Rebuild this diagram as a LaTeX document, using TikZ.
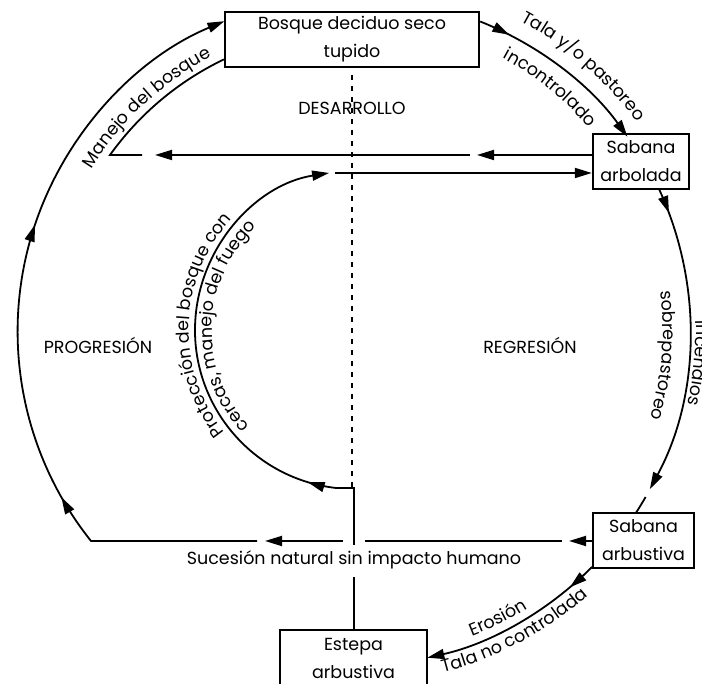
\documentclass[tikz,border=0pt]{standalone}
\usepackage{fontspec}
\setmainfont{Poppins}
\usetikzlibrary{arrows.meta,decorations.text,decorations.markings}
\newcommand\lblfont{\fontsize{17.5}{20}\selectfont}
\begin{document}
\begin{tikzpicture}[x=1pt,y=1pt,
  >={Triangle[length=17pt,width=10pt]},
  conn/.style={line width=1.8pt},
  box/.style={draw,line width=2.4pt,minimum height=55pt,inner sep=0pt,align=center,font=\fontsize{17.5}{28}\selectfont},
  lbl/.style={font=\lblfont},
  curved/.style={decorate,decoration={text along path,text={|\lblfont|#1},text align=center}},
  midarr/.style={postaction={decorate,decoration={markings,mark=at position #1 with {\arrow{>}}}}},
  dotline/.style={line width=2.6pt,dash pattern=on 5pt off 6pt}
]
\useasboundingbox (0,0) rectangle (702,684);
\coordinate (C) at (354,354);

% boxes
\node[box,minimum width=254pt] (bosque) at (352,644.5) {Bosque deciduo seco\\tupido};
\node[box,minimum width=96pt] (arbolada) at (641,522.5) {Sabana\\arbolada};
\node[box,minimum width=101pt] (arbustiva) at (643.5,143.5) {Sabana\\arbustiva};
\node[box,minimum width=147pt,minimum height=57pt] (estepa) at (353.5,25.5) {Estepa\\arbustiva};

% labels
\node[lbl] (desarrollo) at (352,576) {DESARROLLO};
\node[lbl] (progresion) at (98,339) {PROGRESIÓN};
\node[lbl] (regresion) at (530,339) {REGRESIÓN};
\node[lbl] (sucesion) at (354,124) {Sucesión natural sin impacto humano};

% dotted divider
\coordinate (dtop) at (352,609);
\coordinate (dbot) at (352,194);
\draw[dotline] (dtop) -- (dbot);

% top: bosque -> sabana arbolada
\coordinate (t0) at ([yshift=18pt]bosque.east);
\draw[conn,->,midarr=32pt] (t0) arc[start angle=68.2,end angle=35.7,radius=334];

% right: arbolada -> arbustiva
\coordinate (r0) at (659,495);
\coordinate (r1) at (645.6,187);
\draw[conn,->,midarr=26pt] (r0) arc[start angle=24.8,end angle=-28.3,radius=336];
\draw[conn] (r1) arc[start angle=-29.8,end angle=-33,radius=336];

% lower right: arbustiva -> estepa
\coordinate (e0) at (592,117);
\draw[conn,->,midarr=30pt] (e0) arc[start angle=-44.9,end angle=-77.4,radius=336];

% top horizontal (arbolada -> bosque)
\coordinate (h1a) at (arbolada.west |- 0,529);
\coordinate (h1b) at (477,529);
\coordinate (h1c) at (470,529);
\coordinate (h1d) at (155,529);
\coordinate (h1e) at (142,529);
\coordinate (h1f) at (110,529);
\draw[conn,->] (h1a) -- (h1b);
\draw[conn,->] (h1c) -- (h1d);
\draw[conn] (h1e) -- (h1f) arc[start angle=144.4,end angle=115.6,radius=299];

% second horizontal (inner arc -> arbolada)
\coordinate (h2a) at (335,511);
\draw[conn,->] (h2a) -- (arbolada.west |- h2a);

% vertical from estepa and inner arc
\coordinate (v0) at (estepa.north -| 354,0);
\coordinate (v1) at (354,107);
\coordinate (v2) at (354,139);
\coordinate (v3) at (354,196);
\coordinate (v4) at (336,196);
\draw[conn] (v0) -- (v1);
\draw[conn,->,midarr=104pt] (v2) -- (v3) -- (v4) arc[start angle=263.5,end angle=99,radius=159];

% bottom horizontal (arbustiva -> progression)
\coordinate (b0) at (arbustiva.west |- 0,143);
\coordinate (b1) at (569,143);
\coordinate (b2) at (562,143);
\coordinate (b3) at (365,143);
\coordinate (b4) at (343,143);
\coordinate (b5) at (265,143);
\coordinate (b6) at (257,143);
\coordinate (b7) at (91,143);
\draw[conn,->] (b0) -- (b1);
\draw[conn] (b2) -- (b3);
\draw[conn,->] (b4) -- (b5);
\draw[conn,->,midarr=219pt,midarr=501pt] (b6) -- (b7) arc[start angle=218.6,end angle=112.6,radius=336];

% curved labels
\path[curved={Manejo del bosque}] (C) ++(160:308) arc[start angle=160,end angle=106,radius=308];
\path[curved={Tala y/o pastoreo}] (C) ++(78:351) arc[start angle=78,end angle=20,radius=351];
\path[curved={incontrolado}] (C) ++(78:310) arc[start angle=78,end angle=24,radius=310];
\path[curved={sobrepastoreo}] (C) ++(27:309) arc[start angle=27,end angle=-36.4,radius=309];
\path[curved={Incendios}] (C) ++(27:342) arc[start angle=27,end angle=-38,radius=342];
\path[curved={Erosión}] (C) ++(-90:328) arc[start angle=-90,end angle=-37,radius=328];
\path[curved={Tala no controlada}] (C) ++(-95:354) arc[start angle=-95,end angle=-29,radius=354];
\path[curved={Protección del bosque con}] (C) ++(240:165) arc[start angle=240,end angle=116,radius=165];
\path[curved={cercas, manejo del fuego}] (C) ++(240:142) arc[start angle=240,end angle=116,radius=142];
\end{tikzpicture}
\end{document}
